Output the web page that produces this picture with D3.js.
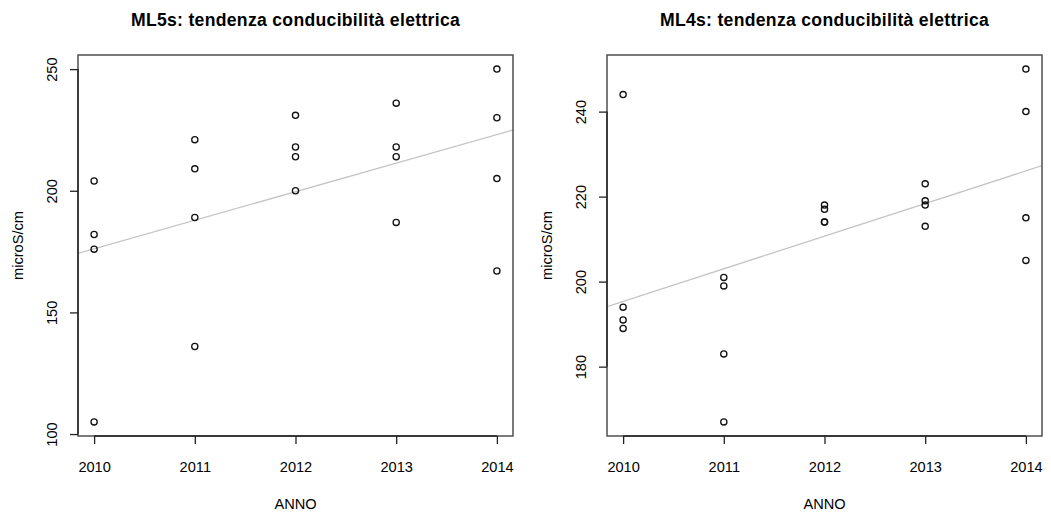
<!DOCTYPE html>
<html>
<head>
<meta charset="utf-8">
<script src="https://cdn.jsdelivr.net/npm/d3@7"></script>
<style>
  html, body { margin: 0; padding: 0; background: #fff; }
  svg { display: block; }
  text { font-family: "Liberation Sans", Arial, Helvetica, sans-serif; fill: #000; }
</style>
</head>
<body>
<svg id="chart" width="1051" height="513"></svg>
<script>
// ---- data ----
const years = [2010, 2011, 2012, 2013, 2014];
const titles = ["ML5s: tendenza conducibilità elettrica", "ML4s: tendenza conducibilità elettrica"];
const xLabel = "ANNO";
const yLabel = "microS/cm";

// measurements per year (4 per year)
const ml5s = [
  [204, 182, 176, 105],
  [221, 209, 189, 136],
  [231, 218, 214, 200],
  [236, 218, 214, 187],
  [250, 230, 205, 167]
];
const ml4s = [
  [244, 194, 191, 189],
  [201, 199, 183, 167],
  [218, 217, 214, 214],
  [223, 219, 218, 213],
  [250, 240, 215, 205]
];
const ml5sTicks = [100, 150, 200, 250];
const ml4sTicks = [180, 200, 220, 240];

// ---- drawing ----
const svg = d3.select("#chart");
const boxW = 435, boxTop = 55, boxBottom = 436;

function flatten(series) {
  const pts = [];
  series.forEach((vals, i) => vals.forEach(v => pts.push({x: years[i], y: v})));
  return pts;
}

function linreg(pts) {
  const mx = d3.mean(pts, d => d.x), my = d3.mean(pts, d => d.y);
  const sxy = d3.sum(pts, d => (d.x - mx) * (d.y - my));
  const sxx = d3.sum(pts, d => (d.x - mx) * (d.x - mx));
  const b = sxy / sxx;
  return {a: my - b * mx, b: b};
}

function rRange(lo, hi) {
  const d = (hi - lo) * 0.04;
  return [lo - d, hi + d];
}

function panel(x0, series, yTicks, title, clipId) {
  const pts = flatten(series);
  const g = svg.append("g");
  const xDom = rRange(d3.min(years), d3.max(years));
  const yDom = rRange(d3.min(pts, d => d.y), d3.max(pts, d => d.y));
  const x = d3.scaleLinear().domain(xDom).range([x0, x0 + boxW]);
  const y = d3.scaleLinear().domain(yDom).range([boxBottom, boxTop]);

  svg.append("clipPath").attr("id", clipId)
    .append("rect").attr("x", x0).attr("y", boxTop).attr("width", boxW).attr("height", boxBottom - boxTop);

  // regression line
  const r = linreg(pts);
  g.append("line")
    .attr("clip-path", `url(#${clipId})`)
    .attr("x1", x(xDom[0])).attr("y1", y(r.a + r.b * xDom[0]))
    .attr("x2", x(xDom[1])).attr("y2", y(r.a + r.b * xDom[1]))
    .attr("stroke", "#c4c4c4").attr("stroke-width", 1.3);

  // points
  g.selectAll("circle.pt").data(pts).enter().append("circle")
    .attr("class", "pt")
    .attr("cx", d => x(d.x)).attr("cy", d => y(d.y))
    .attr("r", 3.1)
    .attr("fill", "none").attr("stroke", "#111").attr("stroke-width", 1.3);

  // box
  g.append("rect")
    .attr("x", x0).attr("y", boxTop).attr("width", boxW).attr("height", boxBottom - boxTop)
    .attr("fill", "none").attr("stroke", "#444").attr("stroke-width", 1.4);

  // x axis
  const xa = g.append("g").attr("transform", `translate(0,${boxBottom})`)
    .call(d3.axisBottom(x).tickValues(years).tickFormat(d3.format("d")).tickSize(8).tickSizeOuter(0));
  xa.select(".domain").attr("d", `M${x(years[0])},0H${x(years[years.length-1])}`)
    .attr("stroke", "#222").attr("stroke-width", 1.4);
  xa.selectAll(".tick line").attr("stroke", "#222").attr("stroke-width", 1.3);
  xa.selectAll(".tick text").attr("y", 0).attr("dy", "35.7px")
    .style("font-size", "14.6px").style("font-family", "'Liberation Sans', Arial, sans-serif").attr("fill", "#000");

  // y axis
  const ya = g.append("g").attr("transform", `translate(${x0},0)`)
    .call(d3.axisLeft(y).tickValues(yTicks).tickFormat(d3.format("d")).tickSize(8).tickSizeOuter(0));
  ya.select(".domain").attr("d", `M0,${y(yTicks[0])}V${y(yTicks[yTicks.length-1])}`)
    .attr("stroke", "#222").attr("stroke-width", 1.4);
  ya.selectAll(".tick line").attr("stroke", "#222").attr("stroke-width", 1.3);
  ya.selectAll(".tick text")
    .attr("x", null).attr("dy", null)
    .attr("transform", "translate(-21,0) rotate(-90)")
    .attr("text-anchor", "middle")
    .style("font-size", "14.6px").style("font-family", "'Liberation Sans', Arial, sans-serif").attr("fill", "#000");

  // axis titles
  const cx = x0 + boxW / 2;
  g.append("text").attr("x", cx).attr("y", 509).attr("text-anchor", "middle")
    .style("font-size", "14.6px").text(xLabel);
  g.append("text")
    .attr("transform", `translate(${x0 - 55.5},${(boxTop + boxBottom) / 2}) rotate(-90)`)
    .attr("text-anchor", "middle").style("font-size", "14.6px").text(yLabel);

  // title
  g.append("text").attr("x", cx).attr("y", 26).attr("text-anchor", "middle")
    .style("font-size", "17.6px").style("font-weight", "bold").style("letter-spacing", "0.3px")
    .text(title);
}

panel(78, ml5s, ml5sTicks, titles[0], "clipA");
panel(607, ml4s, ml4sTicks, titles[1], "clipB");
</script>
</body>
</html>
